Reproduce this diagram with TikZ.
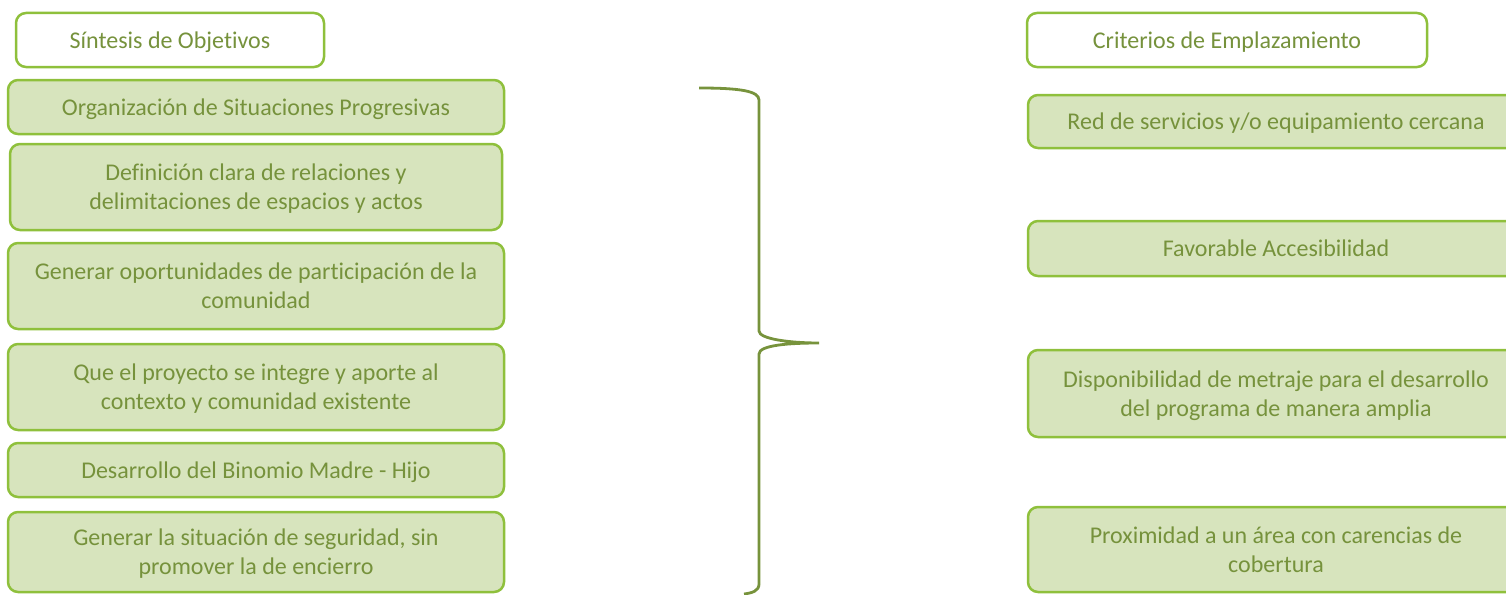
\documentclass[tikz,border=0pt]{standalone}
\usepackage{fontspec}
\setmainfont{Carlito}[Ligatures=NoCommon]
\definecolor{boxline}{HTML}{8FC03C}
\definecolor{boxfill}{HTML}{D7E4BD}
\definecolor{txt}{HTML}{76923C}
\definecolor{bracecol}{HTML}{77933C}
\tikzset{
  base/.style={draw=boxline, line width=2.5pt, rounded corners=10pt, text=txt,
    align=center, font=\fontsize{24}{29}\selectfont, inner sep=0pt},
  head/.style={base, fill=white},
  item/.style={base, fill=boxfill},
}
\newcommand{\lowtxt}[1]{\raisebox{-2.5pt}[\height][\depth]{\begin{tabular}{@{}c@{}}#1\end{tabular}}}
\begin{document}
\begin{tikzpicture}[x=1pt,y=-1pt]
\useasboundingbox (0,0) rectangle (1506,594);
\begin{scope}
\clip (0,0) rectangle (1506,594);
\renewcommand{\arraystretch}{1}
% left column
\node[head, minimum width=308pt, minimum height=54pt] (h1) at (170,40) {\lowtxt{Síntesis de Objetivos}};
\node[item, minimum width=496pt, minimum height=54pt] (l1) at (256,107) {\lowtxt{Organización de Situaciones Progresivas}};
\node[item, minimum width=492pt, minimum height=86pt] (l2) at (256,187) {\lowtxt{Definición clara de relaciones y\\delimitaciones de espacios y actos}};
\node[item, minimum width=496pt, minimum height=86pt] (l3) at (256,286) {\lowtxt{Generar oportunidades de participación de la\\comunidad}};
\node[item, minimum width=496pt, minimum height=86pt] (l4) at (256,387) {\lowtxt{Que el proyecto se integre y aporte al\\contexto y comunidad existente}};
\node[item, minimum width=496pt, minimum height=54pt] (l5) at (256,470) {\lowtxt{Desarrollo del Binomio Madre - Hijo}};
\node[item, minimum width=496pt, minimum height=80pt] (l6) at (256,552) {\lowtxt{Generar la situación de seguridad, sin\\promover la de encierro}};
% right column
\node[head, minimum width=400pt, minimum height=54pt] (h2) at (1227,40) {\lowtxt{Criterios de Emplazamiento}};
\node[item, minimum width=496pt, minimum height=53pt] (r1) at (1276,121.5) {\lowtxt{Red de servicios y/o equipamiento cercana}};
\node[item, minimum width=496pt, minimum height=55pt] (r2) at (1276,248.5) {\lowtxt{Favorable Accesibilidad}};
\node[item, minimum width=496pt, minimum height=87pt] (r3) at (1276,393.5) {\lowtxt{Disponibilidad de metraje para el desarrollo\\del programa de manera amplia}};
\node[item, minimum width=496pt, minimum height=85pt] (r4) at (1276,549.5) {\lowtxt{Proximidad a un área con carencias de\\cobertura}};
% brace
\coordinate (btop) at (699,88);
\coordinate (btip) at (819,343);
\coordinate (bbot) at (744,594);
\draw[bracecol, line width=2.8pt]
  (btop) .. controls (740,88) and (759,91) .. (759,100)
  -- (759,331) .. controls (759,339) and (790,343) .. (btip)
  .. controls (790,343) and (759,345) .. (759,354)
  -- (759,584) .. controls (759,591) and (752,593) .. (bbot);
\end{scope}
\end{tikzpicture}
\end{document}
